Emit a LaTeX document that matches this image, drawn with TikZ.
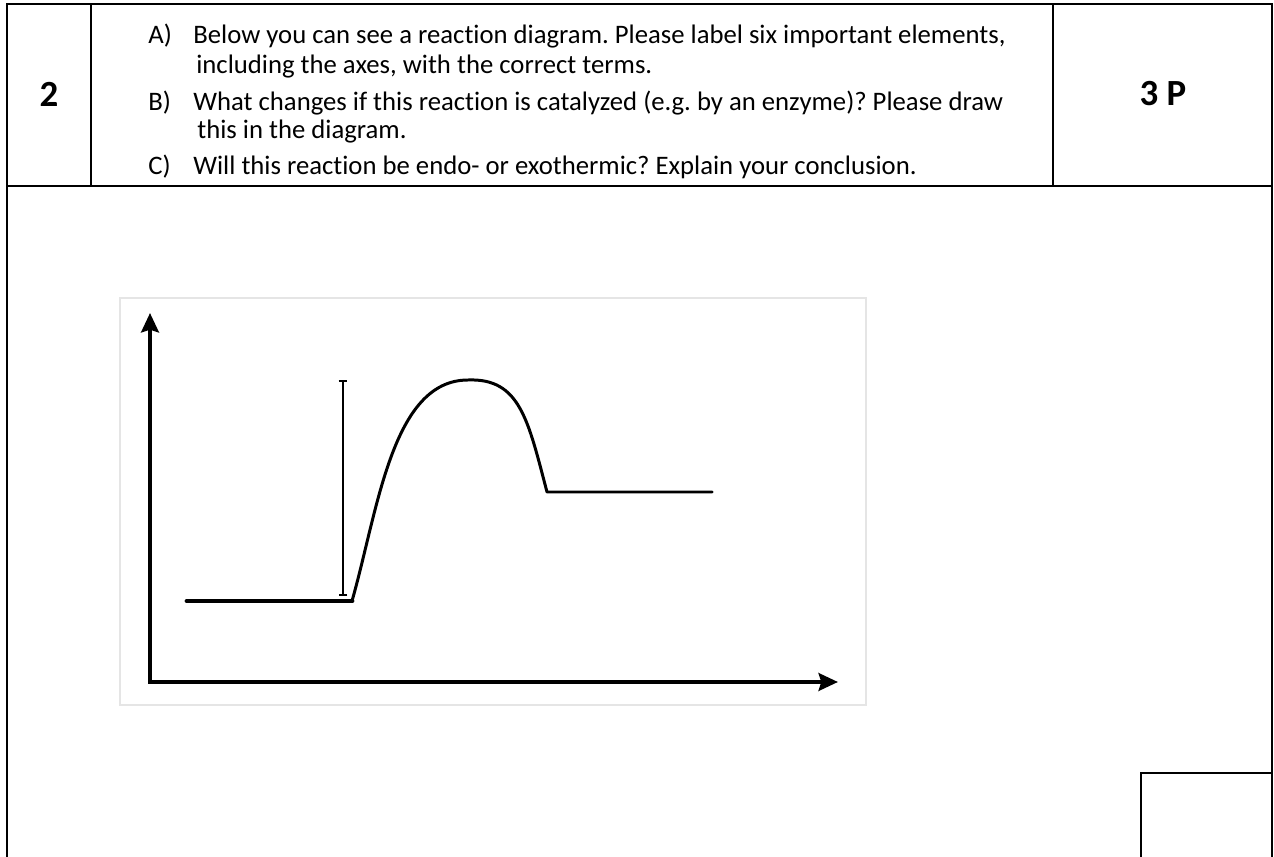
\documentclass[tikz,border=0pt]{standalone}
\usepackage{fontspec}
\setmainfont[Ligatures=NoCommon]{Carlito}
\usetikzlibrary{arrows.meta}
\frenchspacing
\begin{document}
\begin{tikzpicture}[x=0.02cm,y=-0.02cm,
  rule/.style={line width=1.3pt},
  qtext/.style={anchor=base west,inner sep=0pt,font=\fontsize{15.2}{18}\selectfont},
  big/.style={anchor=base,inner sep=0pt,font=\fontsize{21}{24}\selectfont\bfseries},
  axis/.style={line width=2.8pt,line join=miter,
    {Stealth[length=11pt,width=10pt,inset=1.5pt]}-{Stealth[length=11pt,width=10pt,inset=1.5pt]}},
  curve/.style={line width=1.7pt,line cap=round,line join=round}]
\useasboundingbox (0,0) rectangle (1274,857);
% table
\draw[rule] (7,857)--(7,4)--(1272,4)--(1272,857);
\draw[rule] (7,186)--(1272,186);
\draw[rule] (91,4)--(91,186);
\draw[rule] (1053,4)--(1053,186);
\draw[rule] (1141,857)--(1141,773)--(1272,773);
\node[big] (qnum) at (49,107) {2};
\node[big] (pts) at (1163,106) {3 P};
\node[qtext] (labA) at (148,44) {A)};
\node[qtext] (txtA) at (193,44) {Below you can see a reaction diagram. Please label six important elements,};
\node[qtext] (txtA2) at (196,74) {including the axes, with the correct terms.};
\node[qtext] (labB) at (148,111) {B)};
\node[qtext] (txtB) at (193,111) {What changes if this reaction is catalyzed (e.g. by an enzyme)? Please draw};
\node[qtext] (txtB2) at (197,139) {this in the diagram.};
\node[qtext] (labC) at (148,175) {C)};
\node[qtext] (txtC) at (193,175) {Will this reaction be endo- or exothermic? Explain your conclusion.};
% diagram
\draw[gray!20,line width=0.6pt] (120,298) rectangle (866,705);
\coordinate (origin) at (150,682);
\coordinate (ytip) at (150,313);
\coordinate (xtip) at (838,682);
\coordinate (reacL) at (187,601);
\coordinate (reacR) at (352,601);
\coordinate (peak) at (468,380);
\coordinate (prodL) at (547,492);
\coordinate (prodR) at (712,492);
\coordinate (barTop) at (343,380);
\coordinate (barBot) at (343,596);
\draw[axis] (ytip)--(origin)--(xtip);
\draw[line width=2.8pt,line cap=round] (reacL)--(reacR);
\draw[curve] (reacR) .. controls (378,510) and (392,380) .. (peak)
  .. controls (520,378) and (528,420) .. (prodL) -- (prodR);
\draw[line width=1.1pt,{Bar[width=5pt]}-{Bar[width=5pt]}] (barTop)--(barBot);
\end{tikzpicture}
\end{document}
